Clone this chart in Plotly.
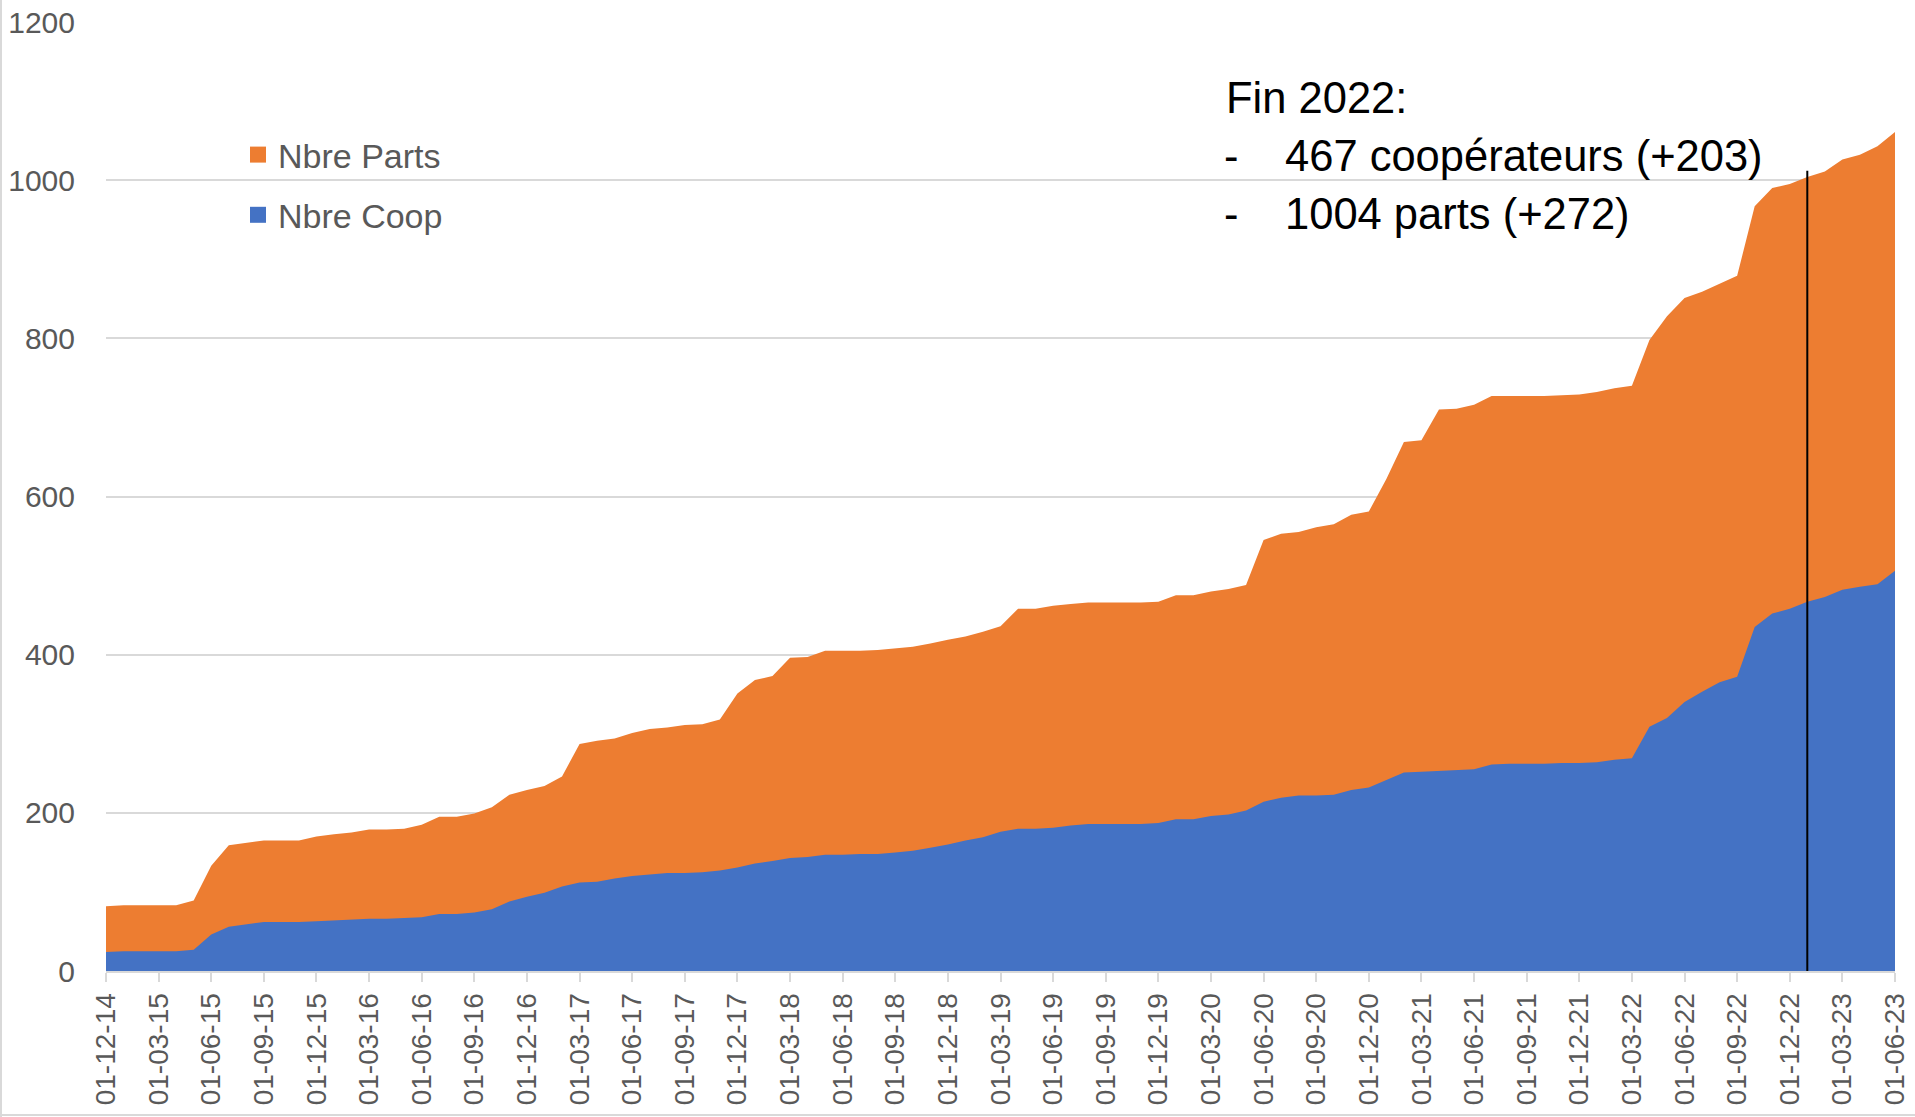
import pandas as pd
import plotly.graph_objects as go

# Month categories (first of each month, Dec 2014 -> Jun 2023)
months = pd.date_range("2014-12-01", "2023-06-01", freq="MS")
categories = [d.strftime("%d-%m-%y") for d in months]

nbre_parts = [
    82, 83, 83, 83, 83, 89, 133, 159, 162, 165, 165, 165,
    170, 173, 175, 179, 179, 180, 185, 195, 195, 199, 207, 223,
    229, 234, 246, 287, 291, 294, 301, 306, 308, 311, 312, 318,
    351, 368, 373, 396, 397, 405, 405, 405, 406, 408, 410, 414,
    419, 423, 429, 436, 458, 458, 462, 464, 466, 466, 466, 466,
    467, 475, 475, 480, 483, 488, 545, 553, 555, 561, 565, 577,
    581, 622, 669, 671, 710, 711, 716, 727, 727, 727, 727, 728,
    729, 732, 737, 740, 798, 828, 851, 859, 869, 879, 967, 990,
    995, 1004, 1011, 1026, 1032, 1043, 1061,
]
nbre_coop = [
    24, 25, 25, 25, 25, 27, 46, 56, 59, 62, 62, 62,
    63, 64, 65, 66, 66, 67, 68, 72, 72, 74, 78, 88,
    94, 99, 107, 112, 113, 117, 120, 122, 124, 124, 125, 127,
    131, 136, 139, 143, 144, 147, 147, 148, 148, 150, 152, 156,
    160, 165, 169, 176, 180, 180, 181, 184, 186, 186, 186, 186,
    187, 192, 192, 196, 198, 203, 214, 219, 222, 222, 223, 229,
    232, 241, 251, 252, 253, 254, 255, 261, 262, 262, 262, 263,
    263, 264, 267, 269, 309, 320, 340, 353, 365, 372, 435, 452,
    458, 467, 473, 482, 486, 489, 506,
]
tick_labels = categories[::3]
y_ticks = [0, 200, 400, 600, 800, 1000, 1200]
marker_category = "01-01-23"
marker_top = 1012
note_title = "Fin 2022:"
note_lines = ["467 coopérateurs (+203)", "1004 parts (+272)"]

ORANGE = "#ED7D31"
BLUE = "#4472C4"
GRAY = "#595959"
GRID = "#D9D9D9"
FONT = "Liberation Sans, Arial, sans-serif"

W, H = 1915, 1117
ML, MR, MT, MB = 106, 20, 22, 146
PW, PH = W - ML - MR, H - MT - MB


def px(x):
    return (x - ML) / PW


def py(y):
    return (H - MB - y) / PH


fig = go.Figure()
fig.add_trace(go.Scatter(x=categories, y=nbre_parts, mode="lines", fill="tozeroy",
                         line=dict(width=0, color=ORANGE), fillcolor=ORANGE,
                         showlegend=False, hoverinfo="skip"))
fig.add_trace(go.Scatter(x=categories, y=nbre_coop, mode="lines", fill="tozeroy",
                         line=dict(width=0, color=BLUE), fillcolor=BLUE,
                         showlegend=False, hoverinfo="skip"))
# legend entries
fig.add_trace(go.Scatter(x=[None], y=[None], mode="markers", name="Nbre Parts",
                         marker=dict(symbol="square", size=19, color=ORANGE),
                         legendgroup="a"))
fig.add_trace(go.Scatter(x=[None], y=[None], mode="markers", name="Nbre Coop",
                         marker=dict(symbol="square", size=19, color=BLUE),
                         legendgroup="b"))

fig.add_shape(type="line", xref="x", yref="y", x0=marker_category, x1=marker_category,
              y0=0, y1=marker_top, line=dict(color="black", width=2))

# chart border (left & bottom)
fig.add_shape(type="line", xref="paper", yref="paper", x0=px(1), x1=px(1),
              y0=py(H), y1=py(0), line=dict(color=GRID, width=2))
fig.add_shape(type="line", xref="paper", yref="paper", x0=px(0), x1=px(W),
              y0=py(1115), y1=py(1115), line=dict(color=GRID, width=2))

note_font = dict(family=FONT, size=43.5, color="black")
fig.add_annotation(text=note_title, xref="paper", yref="paper", x=px(1224), y=py(98),
                   xanchor="left", yanchor="middle", showarrow=False, font=note_font)
for k, line in enumerate(note_lines):
    yy = py(156 + 58 * k)
    fig.add_annotation(text="-", xref="paper", yref="paper", x=px(1222), y=yy,
                       xanchor="left", yanchor="middle", showarrow=False, font=note_font)
    fig.add_annotation(text=line, xref="paper", yref="paper", x=px(1283), y=yy,
                       xanchor="left", yanchor="middle", showarrow=False, font=note_font)

fig.update_layout(
    width=W, height=H,
    margin=dict(l=ML, r=MR, t=MT, b=MB, autoexpand=False),
    paper_bgcolor="white", plot_bgcolor="white",
    font=dict(family=FONT, color=GRAY),
    hovermode=False,
    legend=dict(x=px(238), y=py(126), xanchor="left", yanchor="top",
                font=dict(family=FONT, size=34, color=GRAY),
                tracegroupgap=13, bgcolor="rgba(0,0,0,0)",
                itemsizing="trace"),
    xaxis=dict(type="category", range=[0, len(categories) - 1],
               tickmode="array", tickvals=tick_labels, ticktext=tick_labels,
               tickangle=-90, tickfont=dict(family=FONT, size=28, color=GRAY),
               showgrid=False, showline=True, linecolor=GRID, linewidth=2,
               ticks="outside", ticklen=9, tickcolor=GRID, tickwidth=2,
               zeroline=False, automargin=False),
    yaxis=dict(range=[0, 1200], tickvals=y_ticks,
               tickfont=dict(family=FONT, size=30, color=GRAY),
               showgrid=True, gridcolor=GRID, gridwidth=1.5,
               showline=False, zeroline=False, ticks="",
               ticklabelstandoff=30, automargin=False),
)

fig.write_html(
    "out.html",
    config={"displayModeBar": False},
    post_script="document.body.style.margin='0';document.body.style.overflow='hidden';",
)
